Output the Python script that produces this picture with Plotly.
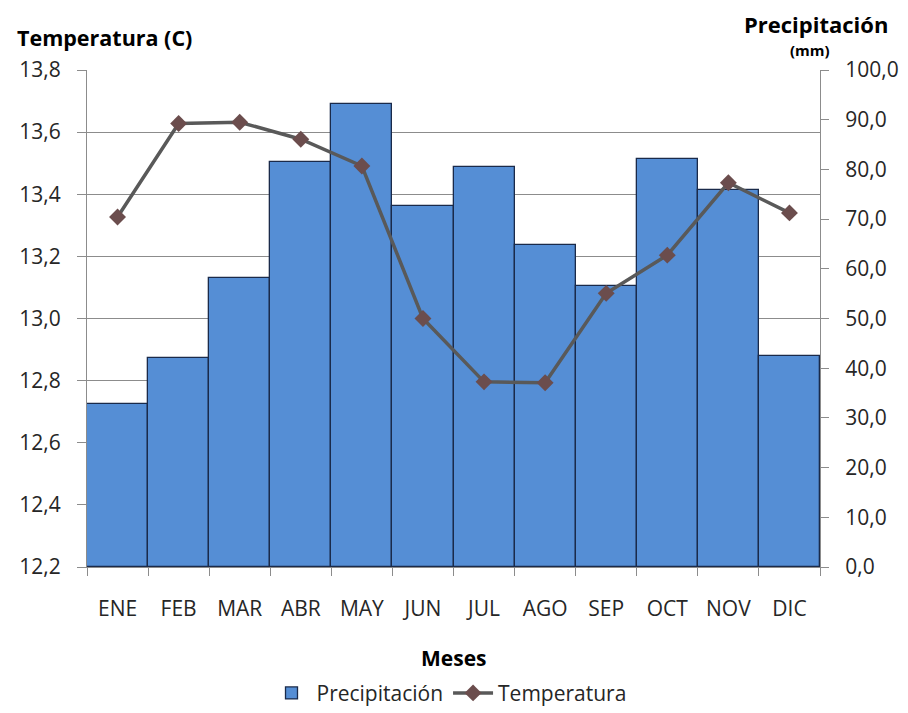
import plotly.graph_objects as go

months = ["ENE", "FEB", "MAR", "ABR", "MAY", "JUN", "JUL", "AGO", "SEP", "OCT", "NOV", "DIC"]
precipitacion = [32.7, 42.0, 58.1, 81.5, 93.2, 72.6, 80.4, 64.8, 56.5, 82.0, 75.8, 42.4]
temperatura = [13.327, 13.628, 13.632, 13.577, 13.491, 13.000, 12.796, 12.793, 13.081, 13.204, 13.437, 13.340]
temp_ticks = [12.2, 12.4, 12.6, 12.8, 13.0, 13.2, 13.4, 13.6, 13.8]
prec_ticks = [0, 10, 20, 30, 40, 50, 60, 70, 80, 90, 100]

FONT = "Open Sans"
GRID = "#8c8c8c"
TXT = "#262626"

fig = go.Figure()
fig.add_trace(go.Bar(
    x=months, y=precipitacion, name="Precipitación",
    marker=dict(color="#558ED5", line=dict(color="#1a2a4a", width=1.3)),
    yaxis="y",
))
fig.add_trace(go.Scatter(
    x=months, y=temperatura, name="Temperatura", mode="lines+markers",
    line=dict(color="#595959", width=3.5),
    marker=dict(symbol="diamond", size=13, color="#6b4d4d"),
    yaxis="y2",
))

# page has an 8px body margin, so the figure is 900x705 and offset by 8px
fig.update_layout(
    width=900, height=705,
    margin=dict(l=79, r=88, t=62, b=146, autoexpand=False),
    paper_bgcolor="white", plot_bgcolor="white",
    separators=",.",
    bargap=0,
    font=dict(family=FONT, size=20, color=TXT),
    showlegend=True,
    legend=dict(orientation="h", x=0.49, xanchor="center", xref="container",
                y=0.028, yref="container", yanchor="middle",
                font=dict(size=21, family=FONT, color=TXT), itemwidth=40, traceorder="normal"),
    xaxis=dict(
        type="category", range=[-0.5, 11.5], automargin=False,
        showline=True, linecolor=GRID, linewidth=1.2,
        ticks="outside", tickson="boundaries", ticklen=8, tickcolor=GRID,
        tickfont=dict(size=21, family=FONT, color=TXT),
        ticklabelstandoff=23, showgrid=False,
    ),
    yaxis=dict(
        side="right", range=[0, 100], tickvals=prec_ticks, tickformat=".1f", automargin=False,
        showgrid=False, showline=True, linecolor=GRID, linewidth=1.2,
        ticks="outside", ticklen=8, tickcolor=GRID,
        tickfont=dict(size=21, family=FONT, color=TXT),
        ticklabelstandoff=12, zeroline=False,
    ),
    yaxis2=dict(
        overlaying="y", side="left", range=[12.2, 13.8], tickvals=temp_ticks, tickformat=".1f",
        automargin=False,
        showgrid=True, gridcolor=GRID, gridwidth=1.2,
        showline=True, linecolor=GRID, linewidth=1.2,
        ticks="outside", ticklen=9, tickcolor=GRID,
        tickfont=dict(size=21, family=FONT, color=TXT),
        ticklabelstandoff=12, zeroline=False,
    ),
    annotations=[
        dict(text="<b>Temperatura (C)</b>", xref="paper", yref="paper", x=-0.098, y=1.066,
             xanchor="left", yanchor="middle", showarrow=False, font=dict(size=21.5, family=FONT, color="#000")),
        dict(text="<b>Precipitación</b>", xref="paper", yref="paper", x=1.096, y=1.0926,
             xanchor="right", yanchor="middle", showarrow=False, font=dict(size=22, family=FONT, color="#000")),
        dict(text="<b>(mm)</b>", xref="paper", yref="paper", x=0.987, y=1.040,
             xanchor="center", yanchor="middle", showarrow=False, font=dict(size=15, family=FONT, color="#000")),
        dict(text="<b>Meses</b>", xref="paper", yref="paper", x=0.5, y=-0.183,
             xanchor="center", yanchor="middle", showarrow=False, font=dict(size=21, family=FONT, color="#000")),
    ],
)

fig.write_html("out.html")
